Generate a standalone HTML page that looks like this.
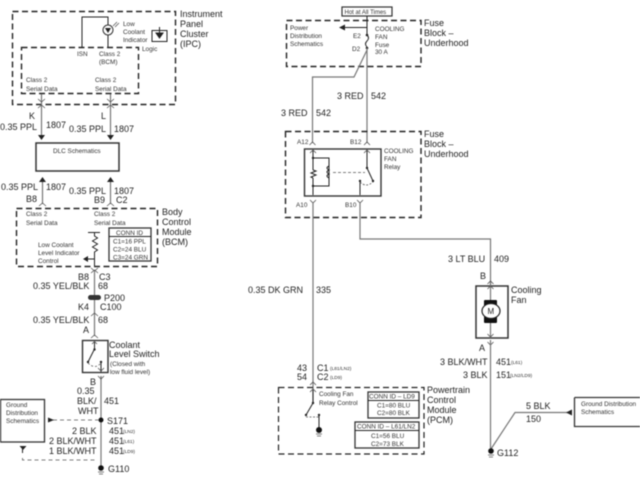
<!DOCTYPE html>
<html><head><meta charset="utf-8"><style>
html,body{margin:0;padding:0;background:#fff;width:640px;height:480px;overflow:hidden}
svg{display:block;filter:blur(.45px)}
text{font-family:"Liberation Sans",sans-serif;font-size:9px;fill:#222}
.s text,text.s{font-size:6.4px;fill:#333}
.t{font-size:4.8px!important;fill:#333}
.d{fill:none;stroke:#222;stroke-width:1.4;stroke-dasharray:6 3.5}
.w{fill:none;stroke:#777;stroke-width:1.2}
.k{fill:none;stroke:#222;stroke-width:1}
.b{fill:none;stroke:#333;stroke-width:1.3}
.g{fill:none;stroke:#555;stroke-width:.8;stroke-dasharray:4 3}
.c{fill:none;stroke:#555;stroke-width:.8}
</style></head><body>
<svg width="640" height="480" viewBox="0 0 640 480" xmlns="http://www.w3.org/2000/svg">
<!-- IPC -->
<rect class="d" x="12.5" y="11.5" width="163" height="93"/>
<rect class="d" x="21.5" y="47.5" width="117" height="46"/>
<path class="k" d="M82 47V17H108V47"/>
<circle cx="108" cy="30" r="5" fill="#fff" stroke="#333"/>
<path d="M105 28h6l-3 5z" fill="#222"/>
<path class="c" d="M113 26l4-4m-2 5l4-4"/>
<rect class="k" x="152" y="30.5" width="15" height="11"/>
<path d="M159.500 27v7M156 33h7l-3.500 5z" fill="#222" stroke="#222"/>
<g class="s">
<text x="123" y="26">Low</text><text x="123" y="34">Coolant</text><text x="123" y="42">Indicator</text>
<text x="142" y="51">Logic</text><text x="77" y="56">ISN</text>
<text x="99" y="56">Class 2</text><text x="99" y="64">(BCM)</text>
<text x="26" y="82">Class 2</text><text x="26" y="91">Serial Data</text>
<text x="95" y="82">Class 2</text><text x="95" y="91">Serial Data</text>
</g>
<text x="180" y="17">Instrument</text><text x="180" y="27">Panel</text><text x="180" y="37">Cluster</text><text x="180" y="47">(IPC)</text>
<!-- top wires -->
<path class="w" d="M41.500 94V137M110.500 94V137"/>
<path class="c" d="M38 99l3.500 3 3.500-3M38 108l3.500-3 3.500 3M107 99l3.500 3 3.500-3M107 108l3.500-3 3.500 3"/>
<path d="M38 135h7l-3.500 5zM107 135h7l-3.500 5z" fill="#222"/>
<text x="29" y="119">K</text><text x="101" y="119">L</text>
<text x="0" y="130">0.35 PPL</text><text x="46" y="128">1807</text>
<text x="69" y="132">0.35 PPL</text><text x="114" y="132">1807</text>
<rect x="36" y="143" width="83" height="28" fill="#fff" stroke="#333" stroke-width="1.5"/>
<text class="s" x="53" y="153">DLC Schematics</text>
<!-- BCM -->
<path class="w" d="M42.500 180V204M110.500 180V204"/>
<path d="M39 182h7l-3.500-5zM107 182h7l-3.500-5z" fill="#222"/>
<path class="c" d="M39 206l3.500-3 3.500 3M107 206l3.500-3 3.500 3"/>
<text x="1" y="190">0.35 PPL</text><text x="46" y="190">1807</text>
<text x="69" y="194">0.35 PPL</text><text x="114" y="194">1807</text>
<text x="26" y="202">B8</text><text x="94" y="203">B9</text><text x="116" y="203">C2</text>
<rect class="d" x="16.500" y="208.500" width="141" height="58"/>
<g class="s">
<text x="26" y="216">Class 2</text><text x="26" y="225">Serial Data</text>
<text x="94" y="216">Class 2</text><text x="94" y="225">Serial Data</text>
<text x="38" y="247">Low Coolant</text><text x="38" y="255">Level Indicator</text><text x="38" y="263">Control</text>
</g>
<text x="162" y="215">Body</text><text x="162" y="225">Control</text><text x="162" y="235">Module</text><text x="162" y="245">(BCM)</text>
<rect x="109" y="228" width="42" height="33" fill="#fff" stroke="#333" stroke-width="1.300"/>
<path class="k" d="M109 236.500H151"/>
<g class="s"><text x="116" y="235">CONN ID</text><text x="113" y="243.500">C1=16 PPL</text><text x="113" y="251.500">C2=24 BLU</text><text x="113" y="259.500">C3=24 GRN</text></g>
<path class="k" d="M88 232.500H100M94.500 232.500V236l3 2-5 3 5 3-5 3 5 3-3 2V266"/>
<path class="k" d="M87 259H94"/><path d="M83 259l5-3v6z" fill="#222"/>
<path class="c" d="M91 268l3.500 3 3.500-3M91 273l3.500-3 3.500 3"/>
<path class="w" d="M94.500 271V336"/>
<text x="78" y="280">B8</text><text x="99" y="280">C3</text>
<text x="33" y="289">0.35 YEL/BLK</text><text x="98" y="289">68</text>
<rect x="88" y="295" width="13" height="5" rx="2.500" fill="#333"/>
<text x="104" y="301">P200</text>
<text x="78" y="310">K4</text><text x="100" y="310">C100</text>
<path class="c" d="M91 316l3.500-3 3.500 3M91 338l3.500-3 3.500 3"/>
<text x="33" y="323">0.35 YEL/BLK</text><text x="98" y="323">68</text>
<text x="83" y="333">A</text>
<!-- switch -->
<rect x="82.500" y="340.500" width="25.500" height="32" fill="#fff" stroke="#333" stroke-width="1.400"/>
<path class="k" d="M94.500 342V349L88 362"/><circle cx="94.500" cy="349.500" r="1.200" fill="#222"/><circle cx="88" cy="362" r="1.200" fill="#222"/><circle cx="101" cy="362" r="1.200" fill="#222"/>
<path class="k" d="M101 362V372"/><path class="c" stroke-dasharray="2 2" d="M88 363Q95 370 101 363"/>
<path class="c" d="M92 344l2.500-2.500 2.500 2.500M98 368l3 3 3-3"/>
<text x="109" y="348">Coolant</text><text x="109" y="357">Level Switch</text>
<g class="s"><text x="110" y="366">(Closed with</text><text x="110" y="374">low fluid level)</text></g>
<!-- lower left -->
<path class="w" d="M101 376V468"/>
<path class="c" d="M98 376l3 3 3-3"/>
<text x="90" y="385">B</text><text x="77" y="394">0.35</text><text x="77" y="404">BLK/</text><text x="78" y="414">WHT</text><text x="104" y="404">451</text>
<circle cx="101" cy="420" r="2.500" fill="#111"/>
<path class="g" d="M99 420H53"/><path d="M48 417.500l6 2.500-6 2.500z" fill="#222"/>
<text x="107" y="424">S171</text>
<rect x=".5" y="399.500" width="44" height="42.500" fill="#fff" stroke="#333" stroke-width="1.300"/>
<g class="s"><text x="6" y="407">Ground</text><text x="6" y="415">Distribution</text><text x="6" y="423">Schematics</text></g>
<path d="M19.500 446h7l-3.500 4z" fill="#222"/><path class="k" d="M22.500 449V453"/>
<path class="g" d="M22.500 458V460H97"/>
<text x="72" y="434">2 BLK</text><text x="109" y="434">451</text><text class="t" x="123" y="433">(LN2)</text>
<text x="49" y="444">2 BLK/WHT</text><text x="109" y="444">451</text><text class="t" x="123" y="443">(L61)</text>
<text x="49" y="454">1 BLK/WHT</text><text x="109" y="454">451</text><text class="t" x="123" y="453">(LD9)</text>
<circle cx="101" cy="468" r="2.800" fill="#111"/><path class="c" d="M98 472h6M99 474h4"/>
<text x="108" y="472">G110</text>
<!-- fuse block -->
<rect x="342" y="7" width="50" height="9" fill="#fff" stroke="#333" stroke-width="1.200"/>
<text class="s" x="344.500" y="14" style="font-size:6px">Hot at All Times</text>
<rect class="d" x="286.500" y="20.500" width="134.500" height="46"/>
<g class="s"><text x="290" y="30">Power</text><text x="290" y="38">Distribution</text><text x="290" y="46">Schematics</text>
<text x="375" y="31">COOLING</text><text x="375" y="39">FAN</text><text x="375" y="47">Fuse</text><text x="375" y="54">30 A</text>
<text x="353" y="38">E2</text><text x="352" y="51">D2</text></g>
<path class="k" d="M367 16V35M344 27.500H367"/><path d="M339 27.500l6-3v6z" fill="#222"/>
<path class="k" d="M367 35q3 3 0 6q-3 3 0 6"/><circle cx="367" cy="35" r="1.300" fill="#222"/><circle cx="367" cy="48" r="1.300" fill="#222"/>
<path class="w" d="M367 48V143M367 50L354 77H312.500V143"/>
<path class="c" d="M364 145l3-3 3 3M309.500 145l3-3 3 3"/>
<text x="424" y="26">Fuse</text><text x="424" y="36">Block –</text><text x="424" y="46">Underhood</text>
<text x="337" y="99">3 RED</text><text x="371" y="99">542</text>
<text x="281" y="116">3 RED</text><text x="316" y="116">542</text>
<rect class="d" x="285.500" y="131.500" width="135.500" height="86"/>
<text x="424" y="137">Fuse</text><text x="424" y="147">Block –</text><text x="424" y="157">Underhood</text>
<g class="s"><text x="297" y="144">A12</text><text x="350" y="144">B12</text><text x="296" y="207">A10</text><text x="345" y="207">B10</text>
<text x="384" y="153">COOLING</text><text x="384" y="161">FAN</text><text x="384" y="169">Relay</text></g>
<rect x="304.500" y="149" width="76.500" height="47" fill="#fff" stroke="#333" stroke-width="1.400"/>
<path class="k" d="M313 150V158H329V186H313V195"/><path class="k" d="M313 158V170M313 178V186"/>
<path class="k" d="M313 170l3 1-5 2 5 2-5 2 2 1"/>
<path class="k" d="M329 166q-4 2 0 4q-4 2 0 4q-4 2 0 4"/>
<circle cx="313" cy="158" r="1.200" fill="#222"/><circle cx="313" cy="186" r="1.200" fill="#222"/>
<path class="g" stroke-width=".7" d="M333 172.500H365" style="stroke-dasharray:3 2"/>
<path class="k" d="M367 150V168L373 181M360 181V195"/><circle cx="367" cy="168" r="1.200" fill="#222"/><circle cx="373" cy="181" r="1.200" fill="#222"/><circle cx="360" cy="181" r="1.200" fill="#222"/>
<path class="c" stroke-dasharray="2 1.500" d="M360 182Q366 188 373 182"/>
<path class="c" d="M310 200l3 3 3-3M357 200l3 3 3-3M310 153l3-3 3 3M364 153l3-3 3 3"/>
<path class="w" d="M313 202V403M360 202V239H490.500V285"/>
<text x="248" y="293">0.35 DK GRN</text><text x="316" y="293">335</text>
<text x="448" y="262">3 LT BLU</text><text x="494" y="262">409</text>
<text x="480" y="279">B</text>
<rect x="476" y="286" width="32" height="52" fill="#fff" stroke="#333" stroke-width="1.500"/>
<path class="w" d="M490.500 282V338"/>
<path class="c" d="M487.500 284l3-3 3 3M487.500 289l3-3 3 3M487.500 334l3 3 3-3"/>
<rect x="484" y="300" width="13" height="23" rx="1" fill="#111"/>
<ellipse cx="491" cy="311" rx="9" ry="7.500" fill="#fff" stroke="#222" stroke-width="1.200"/>
<text x="487.500" y="314" style="font-size:8px">M</text>
<text x="511" y="293">Cooling</text><text x="511" y="303">Fan</text>
<text x="479" y="351">A</text>
<path class="c" d="M487.500 342l3 3 3-3"/>
<path class="w" d="M490.500 340V451M491 449L515 412.500H570"/>
<path d="M566 412.500l6-3v6z" fill="#222"/>
<text x="440" y="365">3 BLK/WHT</text><text x="496" y="365">451</text><text class="t" x="511" y="364">(L61)</text>
<text x="463" y="378">3 BLK</text><text x="496" y="378">151</text><text class="t" x="510" y="377">(LN2/LD9)</text>
<circle cx="491" cy="451" r="2.800" fill="#111"/><path class="c" d="M488 455h6M489 457h4"/>
<text x="497" y="456">G112</text>
<text x="526" y="409">5 BLK</text><text x="526" y="422">150</text>
<path d="M574.500 397.500H640M574.500 397.500V426.500H640" fill="#fff" stroke="#333" stroke-width="1.300"/>
<g class="s"><text x="581" y="406">Ground Distribution</text><text x="581" y="414">Schematics</text></g>
<!-- PCM -->
<text x="297" y="371">43</text><text x="317" y="371">C1</text><text class="t" x="330" y="370">(L81/LN2)</text>
<text x="297" y="380">54</text><text x="317" y="380">C2</text><text class="t" x="330" y="379">(LD9)</text>
<rect class="d" style="stroke-width:1.200" x="278.500" y="387.500" width="145.500" height="66.500"/>
<path class="c" d="M310 385l3-3 3 3M310 392l3-3 3 3"/>
<path class="k" d="M313 390V403L306 415"/><circle cx="313" cy="403" r="1.200" fill="#222"/><circle cx="306" cy="415" r="1.200" fill="#222"/><circle cx="319" cy="415" r="1.200" fill="#222"/>
<path class="c" stroke-dasharray="2 1.500" d="M306 417H319"/><path class="k" d="M319 415V430"/>
<circle cx="319" cy="430" r="3" fill="#111"/><path class="c" d="M316 434h6M317 436h4"/>
<g class="s"><text x="319" y="396">Cooling Fan</text><text x="319" y="405">Relay Control</text></g>
<rect x="368" y="392" width="51" height="26" fill="#fff" stroke="#333" stroke-width="1.300"/><path class="k" d="M368 400.500H419"/>
<rect x="355" y="422" width="64" height="26" fill="#fff" stroke="#333" stroke-width="1.300"/><path class="k" d="M355 430.500H419"/>
<g class="s"><text x="369" y="398.500">CONN ID – LD9</text><text x="377" y="407.500">C1=80 BLU</text><text x="377" y="415">C2=80 BLK</text>
<text x="357" y="428.500">CONN ID – L61/LN2</text><text x="371" y="438">C1=56 BLU</text><text x="371" y="446">C2=73 BLK</text></g>
<text x="427" y="393">Powertrain</text><text x="427" y="403">Control</text><text x="427" y="413">Module</text><text x="427" y="423">(PCM)</text>
</svg>
</body></html>
